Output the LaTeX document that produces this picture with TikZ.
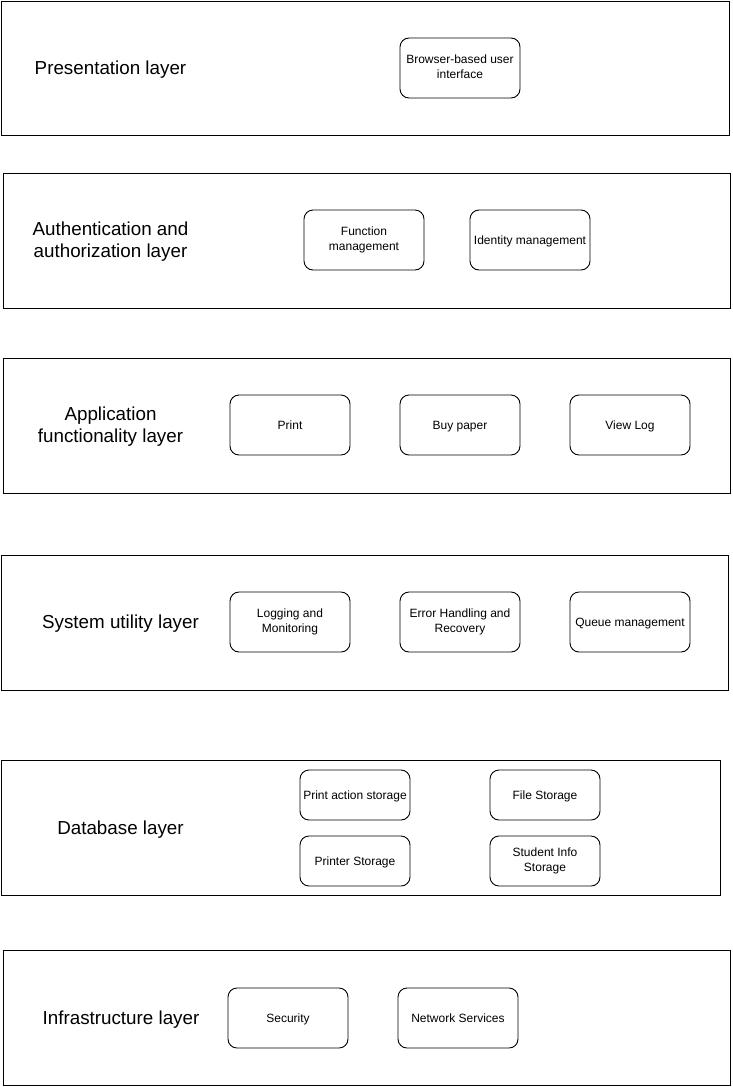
\documentclass[tikz,border=0pt]{standalone}
\usepackage{fontspec}
\setmainfont{Liberation Sans}
\newcommand\drstrut{\rule[-0.2535em]{0pt}{1.2em}}
\begin{document}
\begin{tikzpicture}[x=1pt,y=-1pt,
  layer/.style={draw=black,line width=1pt,inner sep=0pt},
  layertext/.style={align=center,inner sep=0pt,font=\fontsize{18.8}{22.56}\selectfont,
    execute at begin node=\drstrut,execute at end node=\drstrut},
  comp/.style={draw=black,line width=0.9pt,rounded corners=9pt,inner sep=0pt,
    minimum width=120pt,minimum height=60pt,align=center,
    font=\fontsize{12}{14.6}\selectfont,
    execute at begin node=\drstrut,execute at end node=\drstrut},
  store/.style={comp,minimum width=110pt,minimum height=50pt}]
\useasboundingbox (0,0) rectangle (732,1087);
% layers
\node[layer,minimum width=728pt,minimum height=134pt] (L1) at (365,68) {};
\node[layer,minimum width=727pt,minimum height=135pt] (L2) at (366.5,240.5) {};
\node[layer,minimum width=727pt,minimum height=135pt] (L3) at (366.5,425.5) {};
\node[layer,minimum width=727pt,minimum height=135pt] (L4) at (364.5,622.5) {};
\node[layer,minimum width=719pt,minimum height=135pt] (L5) at (360.5,827.5) {};
\node[layer,minimum width=727pt,minimum height=135pt] (L6) at (366.5,1017.5) {};
% layer titles
\node[layertext] (T1) at (110.5,68) {Presentation layer};
\node[layertext] (T2) at (110.5,242) {Authentication and\\authorization layer};
\node[layertext] (T3) at (110.5,427) {Application\\functionality layer};
\node[layertext] (T4) at (120.5,622) {System utility layer};
\node[layertext] (T5) at (120.5,828) {Database layer};
\node[layertext] (T6) at (121,1018) {Infrastructure layer};
% components
\node[comp] (bui) at (460,68) {Browser-based user\\interface};
\node[comp] (fm) at (364,240) {Function\\management};
\node[comp] (im) at (530,240) {Identity management};
\node[comp] (pr) at (290,425) {Print};
\node[comp] (bp) at (460,425) {Buy paper};
\node[comp] (vl) at (630,425) {View Log};
\node[comp] (lm) at (290,622) {Logging and\\Monitoring};
\node[comp] (eh) at (460,622) {Error Handling and\\Recovery};
\node[comp] (qm) at (630,622) {Queue management};
\node[store] (pas) at (355,795) {Print action storage};
\node[store] (fs) at (545,795) {File Storage};
\node[store] (ps) at (355,861) {Printer Storage};
\node[store] (sis) at (545,861) {Student Info\\Storage};
\node[comp] (sec) at (288,1018) {Security};
\node[comp] (ns) at (458,1018) {Network Services};
\end{tikzpicture}
\end{document}
